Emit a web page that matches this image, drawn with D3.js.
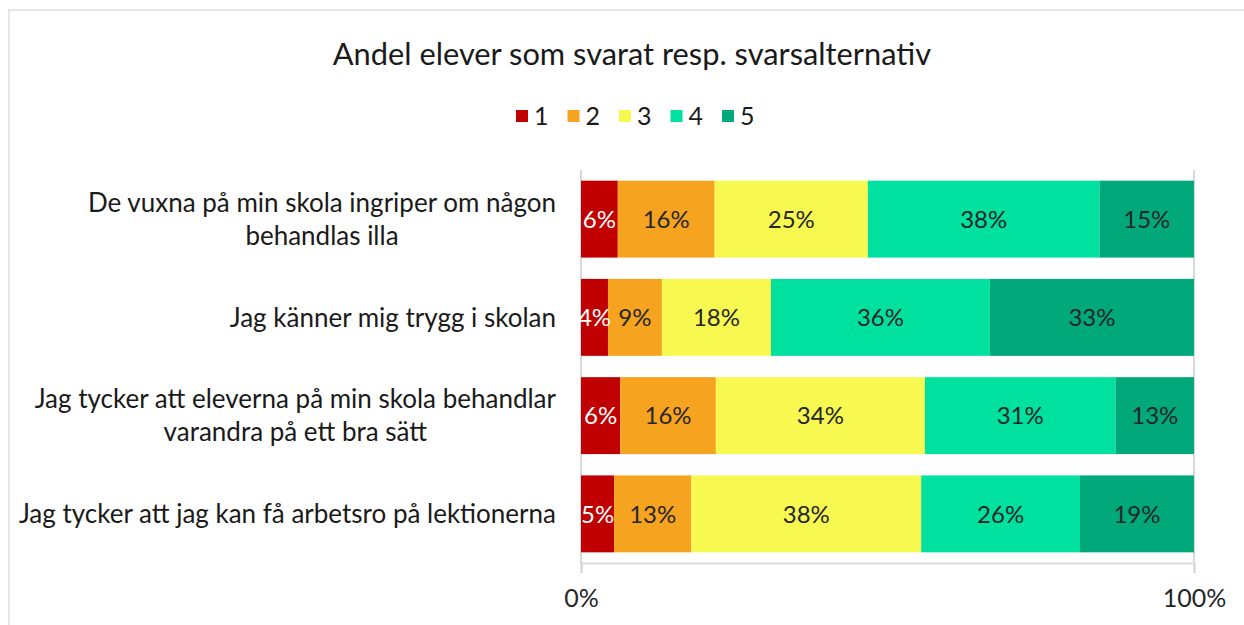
<!DOCTYPE html>
<html>
<head>
<meta charset="utf-8">
<script src="https://cdn.jsdelivr.net/npm/d3@7"></script>
<style>
  body { margin: 0; background: #fff; }
  text { font-family: Lato, "Open Sans", sans-serif; }
</style>
</head>
<body>
<div id="chart"></div>
<script>
// chart data
const categories = [
  ["De vuxna på min skola ingriper om någon", "behandlas illa"],
  ["Jag känner mig trygg i skolan"],
  ["Jag tycker att eleverna på min skola behandlar", "varandra på ett bra sätt"],
  ["Jag tycker att jag kan få arbetsro på lektionerna"]
];
const seriesNames = ["1", "2", "3", "4", "5"];
const answer1 = [6.0, 4.4, 6.4, 5.4];
const answer2 = [15.8, 8.8, 15.6, 12.6];
const answer3 = [25.0, 17.8, 34.1, 37.5];
const answer4 = [37.8, 35.7, 31.1, 25.9];
const answer5 = [15.4, 33.3, 12.8, 18.6];
const xTicks = [0, 100];

const colors = ["#c00000", "#f6a31f", "#f7f850", "#00e09e", "#00a87a"];
const labelColors = ["#ffffff", "#262626", "#262626", "#262626", "#262626"];

const svgWidth = 1244;
const svgHeight = 625;
const margin = { top: 170, right: 50, bottom: 62, left: 581 };
const width = svgWidth - margin.left - margin.right;
const height = svgHeight - margin.top - margin.bottom;

const svg = d3.select("#chart")
  .append("svg")
  .attr("width", svgWidth)
  .attr("height", svgHeight);

// outer chart border (runs past the picture edge on right/bottom)
svg.append("rect")
  .attr("x", 9)
  .attr("y", 10)
  .attr("width", svgWidth + 20)
  .attr("height", svgHeight + 20)
  .attr("fill", "none")
  .attr("stroke", "#e6e6e6")
  .attr("stroke-width", 2);

// title
svg.append("text")
  .attr("x", 632)
  .attr("y", 65)
  .attr("text-anchor", "middle")
  .style("font-size", "30.8px")
  .style("fill", "#1a1a1a")
  .text("Andel elever som svarat resp. svarsalternativ");

// legend
const legend = svg.append("g")
  .attr("transform", "translate(516, 116)");

const legendItem = legend.selectAll("g")
  .data(seriesNames)
  .enter()
  .append("g")
  .attr("transform", (d, i) => `translate(${i * 51.5}, 0)`);

legendItem.append("rect")
  .attr("x", 0)
  .attr("y", -6)
  .attr("width", 12)
  .attr("height", 12)
  .attr("fill", (d, i) => colors[i]);

legendItem.append("text")
  .attr("x", 18)
  .attr("y", 0)
  .attr("dy", "0.36em")
  .style("font-size", "25px")
  .style("fill", "#1a1a1a")
  .text(d => d);

const chartGroup = svg.append("g")
  .attr("transform", `translate(${margin.left}, ${margin.top})`);

// build stacked rows from the series arrays
const rows = categories.map((c, i) => ({
  idx: i,
  "1": answer1[i], "2": answer2[i], "3": answer3[i], "4": answer4[i], "5": answer5[i]
}));
const stacked = d3.stack().keys(seriesNames)(rows);

const xScale = d3.scaleLinear()
  .domain([0, 100])
  .range([0, width]);

const yScale = d3.scaleBand()
  .domain(categories.map((c, i) => i))
  .range([0, height])
  .paddingInner(0.217)
  .paddingOuter(0.1085);

// vertical gridlines
chartGroup.selectAll(".grid")
  .data(xTicks)
  .enter()
  .append("line")
  .attr("x1", d => xScale(d))
  .attr("x2", d => xScale(d))
  .attr("y1", 0)
  .attr("y2", height)
  .attr("stroke", "#d9d9d9")
  .attr("stroke-width", 2);

// bars
const layer = chartGroup.selectAll(".layer")
  .data(stacked)
  .enter()
  .append("g")
  .attr("fill", (d, i) => colors[i]);

layer.selectAll("rect")
  .data(d => d)
  .enter()
  .append("rect")
  .attr("x", d => xScale(d[0]))
  .attr("y", d => yScale(d.data.idx))
  .attr("width", d => xScale(d[1]) - xScale(d[0]))
  .attr("height", yScale.bandwidth());

// data labels
stacked.forEach((s, si) => {
  chartGroup.selectAll(".lbl" + si)
    .data(s)
    .enter()
    .append("text")
    .attr("x", d => xScale((d[0] + d[1]) / 2))
    .attr("y", d => yScale(d.data.idx) + yScale.bandwidth() / 2)
    .attr("dy", "0.36em")
    .attr("text-anchor", "middle")
    .style("font-size", "24px")
    .style("fill", labelColors[si])
    .text(d => Math.round(d.data[s.key]) + "%");
});

// x axis
const xAxis = chartGroup.append("g")
  .attr("transform", `translate(0, ${height})`)
  .call(d3.axisBottom(xScale).tickValues(xTicks).tickFormat(d => d + "%").tickSize(10).tickPadding(16));

xAxis.select(".domain").attr("stroke", "#d9d9d9").attr("stroke-width", 2);
xAxis.selectAll(".tick line").attr("stroke", "#d9d9d9").attr("stroke-width", 2);
xAxis.selectAll(".tick text")
  .style("font-size", "25px")
  .style("font-family", "Lato, sans-serif")
  .style("fill", "#262626");

// category labels, multi-line ones centred on each other
const catLabel = chartGroup.selectAll(".cat")
  .data(categories)
  .enter()
  .append("text")
  .attr("class", "cat")
  .style("font-size", "26px")
  .style("fill", "#1a1a1a")
  .attr("text-anchor", "middle");

const lineHeight = 33;
catLabel.each(function(lines, i) {
  const t = d3.select(this);
  const cy = yScale(i) + yScale.bandwidth() / 2;
  lines.forEach((line, j) => {
    t.append("tspan")
      .attr("y", cy + (j - (lines.length - 1) / 2) * lineHeight)
      .attr("dy", "0.36em")
      .text(line);
  });
  // right-align the block at the axis, then centre lines within it
  const w = d3.max(t.selectAll("tspan").nodes(), n => n.getComputedTextLength());
  t.selectAll("tspan").attr("x", -25 - w / 2);
});
</script>
</body>
</html>
